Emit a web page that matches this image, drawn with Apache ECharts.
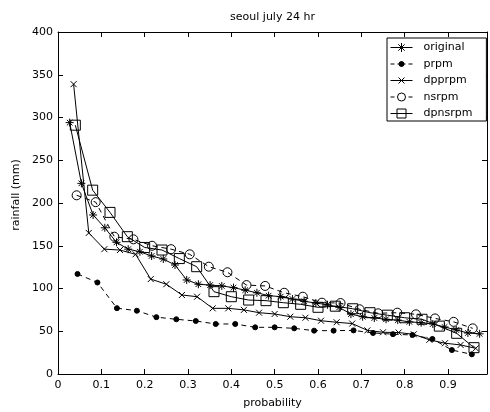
<!DOCTYPE html>
<html>
<head>
<meta charset="utf-8">
<script src="https://cdn.jsdelivr.net/npm/echarts@6/dist/echarts.min.js"></script>
<style>html,body{margin:0;padding:0;background:#fff;}#c{width:490px;height:412px;}</style>
</head>
<body>
<div id="c"></div>
<script>
// probabilities (plotting positions) and rainfall (mm)
var originalX = [0.027,0.054,0.081,0.108,0.135,0.162,0.189,0.216,0.243,0.270,0.297,0.324,0.351,0.378,0.405,0.432,0.459,0.486,0.514,0.541,0.568,0.595,0.622,0.649,0.676,0.703,0.730,0.757,0.784,0.811,0.838,0.865,0.892,0.919,0.946,0.973];
var originalY = [294,223,186,171,154,146,143,138,134.5,127.5,110,105,104,103,101,98,95,91.6,90.5,87.7,85,83,81,78,70,67,65.5,64,63,61,60,58.5,55,51.5,48,47];

var prpmX = [0.045,0.091,0.136,0.182,0.227,0.273,0.318,0.364,0.409,0.455,0.500,0.545,0.591,0.636,0.682,0.727,0.773,0.818,0.864,0.909,0.955];
var prpmY = [117,107,77,74,66.5,64,62,58.5,58.5,54.6,54.6,53.4,50.7,50.7,51,48,46.6,45.6,41,28,23];

var dpprpmX = [0.036,0.071,0.107,0.143,0.179,0.214,0.250,0.286,0.321,0.357,0.393,0.429,0.464,0.500,0.536,0.571,0.607,0.643,0.679,0.714,0.750,0.786,0.821,0.857,0.893,0.929,0.964];
var dpprpmY = [339,165,146,145,140,111,105,92.4,90.4,76.8,76.8,75,71.7,70.2,67,65.8,62.3,60.5,59,51,48.8,48.5,46.4,40,36,34,30];

var nsrpmX = [0.043,0.087,0.130,0.174,0.217,0.261,0.304,0.348,0.391,0.435,0.478,0.522,0.565,0.609,0.652,0.696,0.739,0.783,0.826,0.870,0.913,0.957];
var nsrpmY = [209,201,160.6,157.5,150,146,140,125.5,119,104,103,95,90.4,83.4,83,75.7,71,71.7,69.8,65,61,53.4];

var dpnsrpmX = [0.04,0.08,0.12,0.16,0.20,0.24,0.28,0.32,0.36,0.40,0.44,0.48,0.52,0.56,0.60,0.64,0.68,0.72,0.76,0.80,0.84,0.88,0.92,0.96];
var dpnsrpmY = [291,215,189,160.6,148,145,135,125.5,96.3,90.4,86.5,85.8,83.4,81.5,78,79.3,76.3,71.7,68.8,65.8,64,56,47.6,30.8];

var seriesNames = ['original','prpm','dpprpm','nsrpm','dpnsrpm'];
var titleText = 'seoul july 24 hr';
var xLabel = 'probability';
var yLabel = 'rainfall (mm)';

function pairs(xs, ys){ return xs.map(function(x,i){ return [x, ys[i]]; }); }

var FONT = '"DejaVu Sans", sans-serif';
var symAsterisk = 'path://M0,-10L0,10M-10,0L10,0M-7,-7L7,7M-7,7L7,-7';
var symX = 'path://M-10,-10L10,10M-10,10L10,-10';
var symCircle = 'path://M10,0A10,10 0 1 1 -10,0A10,10 0 1 1 10,0Z';
var symSquare = 'path://M-10,-10L10,-10L10,10L-10,10Z';

// legend icons: 22x10 boxes (anchored by the first two moveTo points)
var BOX = 'M0,0M22,10';
var legendIcons = {
  original: 'path://' + BOX + 'M0,5L22,5M11,0.5L11,9.5M6.5,5L15.5,5M7.8,1.8L14.2,8.2M7.8,8.2L14.2,1.8',
  prpm: 'path://' + BOX + 'M0,5L4,5M18,5L22,5M7,5L15,5M13.5,5A2.5,2.5 0 1 1 8.5,5A2.5,2.5 0 1 1 13.5,5Z',
  dpprpm: 'path://' + BOX + 'M0,5L22,5M8,2L14,8M8,8L14,2',
  nsrpm: 'path://' + BOX + 'M0,5L4,5M18,5L22,5M15,5A4,4 0 1 1 7,5A4,4 0 1 1 15,5Z',
  dpnsrpm: 'path://' + BOX + 'M0,5L22,5M6.5,0.5L15.5,0.5L15.5,9.5L6.5,9.5Z'
};

function mk(name, data, sym, size, dashed, fillDot){
  return {
    name: name, type: 'line', data: data,
    symbol: sym, symbolSize: size, showAllSymbol: true,
    xAxisIndex: 0, yAxisIndex: 0,
    lineStyle: { color: '#000', width: 1, type: dashed ? [5,4] : 'solid' },
    itemStyle: { color: fillDot ? '#000' : 'rgba(0,0,0,0)', borderColor: '#000', borderWidth: 1 },
    emphasis: { disabled: true },
    animation: false, z: 3
  };
}

var chart = echarts.init(document.getElementById('c'), null, {renderer: 'canvas'});
var axisCommon = {
  axisLine: { show: true, onZero: false, lineStyle: { color: '#000', width: 1 } },
  axisTick: { show: true, inside: true, length: 5, lineStyle: { color: '#000' } },
  splitLine: { show: false }
};
chart.setOption({
  animation: false,
  backgroundColor: '#fff',
  grid: { left: 58, top: 32, width: 429, height: 342, containLabel: false },
  xAxis: [
    Object.assign({ type: 'value', min: 0, max: 0.99, interval: 0.1, position: 'bottom',
      axisLabel: { color: '#000', fontSize: 11, fontFamily: FONT, margin: 6, showMaxLabel: false } }, axisCommon),
    Object.assign({ type: 'value', min: 0, max: 0.99, interval: 0.1, position: 'top',
      axisLabel: { show: false } }, axisCommon)
  ],
  yAxis: [
    Object.assign({ type: 'value', min: 0, max: 400, interval: 50, position: 'left',
      axisLabel: { color: '#000', fontSize: 11, fontFamily: FONT, margin: 5 } }, axisCommon),
    Object.assign({ type: 'value', min: 0, max: 400, interval: 50, position: 'right',
      axisLabel: { show: false } }, axisCommon)
  ],
  legend: {
    data: seriesNames.map(function(n){
      return { name: n, icon: legendIcons[n],
        itemStyle: { color: n === 'prpm' ? '#000' : 'rgba(0,0,0,0)', borderColor: '#000', borderWidth: 1 } };
    }),
    orient: 'vertical', left: 387, top: 38,
    padding: [3, 14, 1, 3],
    itemWidth: 22, itemHeight: 10, itemGap: 3.5,
    backgroundColor: '#fff', borderColor: '#000', borderWidth: 1, borderRadius: 0,
    textStyle: { color: '#000', fontSize: 11, fontFamily: FONT, lineHeight: 13, padding: [0, 0, 0, 6] },
    selectedMode: false
  },
  graphic: [
    { type: 'text', x: 272.5, y: 17, style: { text: titleText, fill: '#000', font: '11px ' + FONT, textAlign: 'center', textVerticalAlign: 'middle' } },
    { type: 'text', x: 272.5, y: 403, style: { text: xLabel, fill: '#000', font: '11px ' + FONT, textAlign: 'center', textVerticalAlign: 'middle' } },
    { type: 'text', x: 16, y: 195, rotation: Math.PI / 2, style: { text: yLabel, fill: '#000', font: '11px ' + FONT, textAlign: 'center', textVerticalAlign: 'middle' } }
  ],
  series: [
    mk('original', pairs(originalX, originalY), symAsterisk, 8, false, false),
    mk('prpm', pairs(prpmX, prpmY), 'circle', 5, true, true),
    mk('dpprpm', pairs(dpprpmX, dpprpmY), symX, 6, false, false),
    mk('nsrpm', pairs(nsrpmX, nsrpmY), symCircle, 9, true, false),
    mk('dpnsrpm', pairs(dpnsrpmX, dpnsrpmY), symSquare, 10, false, false)
  ]
});
</script>
</body>
</html>
